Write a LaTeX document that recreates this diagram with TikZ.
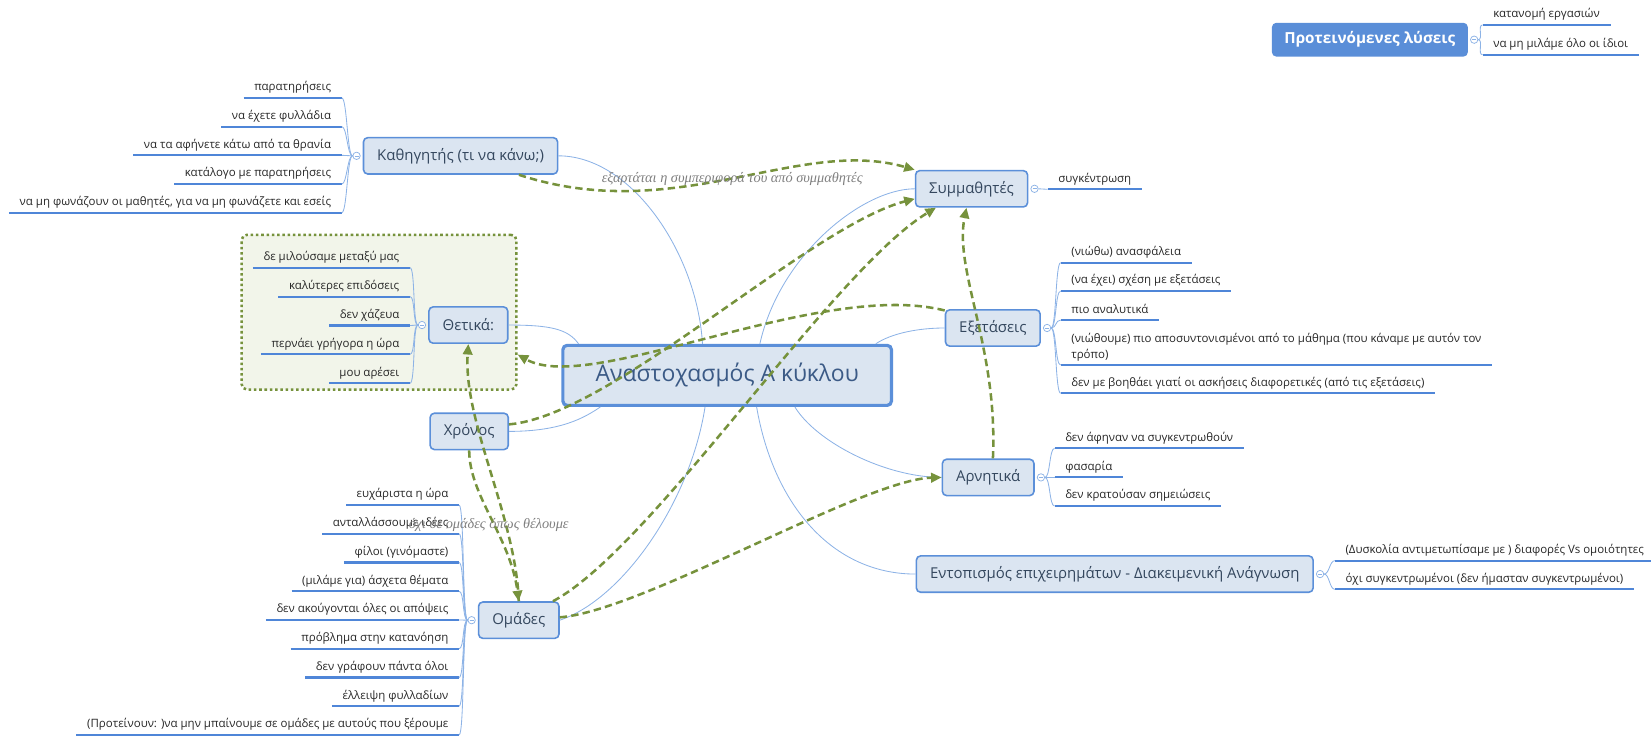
\documentclass[tikz,border=0pt]{standalone}
\usepackage{fontspec}
\setmainfont{Open Sans}
\newfontfamily\notefont{Liberation Serif}
\usetikzlibrary{positioning,arrows.meta}

\definecolor{topicfill}{HTML}{DBE5F1}
\definecolor{topicline}{HTML}{5B8FD9}
\definecolor{topictext}{HTML}{34475E}
\definecolor{roottext}{HTML}{3B5A86}
\definecolor{floatblue}{HTML}{5A8ED8}
\definecolor{twig}{HTML}{8DB3E6}
\definecolor{leafbar}{HTML}{4F86D8}
\definecolor{relgreen}{HTML}{76923C}
\definecolor{groupfill}{HTML}{F2F5EA}
\definecolor{notegray}{HTML}{7F7F7F}

\begin{document}
\begin{tikzpicture}[x=1pt, y=-1pt,
  topic/.style={rectangle, rounded corners=4pt, draw=topicline, line width=1.5pt, fill=topicfill, text=topictext,
    font=\fontsize{14.2}{17}\selectfont, minimum height=34.5pt, inner xsep=13pt},
  root/.style={topic, line width=3pt, minimum width=312pt, minimum height=57pt, text=roottext, font=\fontsize{21.8}{26}\selectfont},
  floater/.style={rectangle, rounded corners=4pt, fill=floatblue, text=white, font=\bfseries\fontsize{14.5}{17}\selectfont,
    minimum height=32pt, minimum width=186pt},
  group/.style={rectangle, rounded corners=5pt, draw=relgreen, fill=groupfill, line width=2.4pt, dash pattern=on 2.4pt off 2.6pt},
  knob/.style={circle, draw=twig, fill=white, line width=.7pt, minimum size=7pt, inner sep=0pt,
    path picture={\draw[twig, line width=.6pt] ([xshift=1.6pt]path picture bounding box.west) -- ([xshift=-1.6pt]path picture bounding box.east);}},
  leaf/.style={font=\fontsize{10.9}{15}\selectfont, text=black!85, align=left, inner xsep=10pt, inner ysep=0pt, text depth=6.5pt},
  leafl/.style={leaf, anchor=south east},
  leafr/.style={leaf, anchor=south west},
  bar/.style={leafbar, line width=2pt},
  twigline/.style={twig, line width=.8pt},
  rel/.style={relgreen, line width=2.4pt, dash pattern=on 7pt off 4pt, -{Triangle[length=10pt,width=9pt]}},
  note/.style={font=\notefont\itshape\fontsize{13.6}{16}\selectfont, text=notegray, inner sep=0pt}]
\useasboundingbox (0,0) rectangle (1568,699);

\node[group, minimum width=261pt, minimum height=147pt] (posgrp) at (360,296.5) {};

\node[root] (root) at (690.6,356.5) {Αναστοχασμός Α κύκλου};
\node[topic] (teacher) at (437.4,148) {Καθηγητής (τι να κάνω;)};
\node[topic] (mates) at (922.7,179.3) {Συμμαθητές};
\node[topic] (exams) at (942.9,311.5) {Εξετάσεις};
\node[topic] (neg) at (938.5,453.4) {Αρνητικά};
\node[topic] (argum) at (1058.7,545.2) {Εντοπισμός επιχειρημάτων - Διακειμενική Ανάγνωση};
\node[topic] (pos) at (444.8,308.7) {Θετικά:};
\node[topic] (time) at (445.6,409.7) {Χρόνος};
\node[topic] (groups) at (492.7,589) {Ομάδες};
\node[floater] (ideas) at (1301,37.7) {Προτεινόμενες λύσεις};

\draw[twigline] (root.128) .. controls +(-5,-85) and +(70,0) .. (teacher.east);
\draw[twigline] (root.44) .. controls +(19,-85) and +(-49,0) .. (mates.west);
\draw[twigline] (root.12) .. controls +(15,-10) and +(-25,0) .. (exams.west);
\draw[twigline] (root.168) .. controls +(-10,-14) and +(40,0) .. (pos.east);
\draw[twigline] (root.194) .. controls +(-15,10) and +(50,0) .. (time.east);
\draw[twigline] (root.235) .. controls +(-14,90) and +(60,-20) .. (groups.east);
\draw[twigline] (root.-25) .. controls +(20,33) and +(-54,0) .. (neg.west);
\draw[twigline] (root.-47) .. controls +(16,93) and +(-79,0) .. (argum.west);

\node[knob, left=2pt of teacher] (teacher-k) {};
\node[knob, left=2pt of pos] (pos-k) {};
\node[knob, left=2pt of groups] (groups-k) {};
\node[knob, right=2pt of mates] (mates-k) {};
\node[knob, right=2pt of exams] (exams-k) {};
\node[knob, right=2pt of neg] (neg-k) {};
\node[knob, right=2pt of argum] (argum-k) {};
\node[knob, right=2pt of ideas] (ideas-k) {};

% left hand leaves
\foreach \t [count=\i from 0] in {παρατηρήσεις, να έχετε φυλλάδια, να τα αφήνετε κάτω από τα θρανία,
    κατάλογο με παρατηρήσεις, {να μη φωνάζουν οι μαθητές, για να μη φωνάζετε και εσείς}} {
  \node[leafl] (teacher-\i) at (324.6,{93+27.25*\i}) {\t};
  \draw[bar] (teacher-\i.south west) -- (teacher-\i.south east);
  \draw[twigline] (teacher-k.west) .. controls +(-5,0) and +(5,0) .. (teacher-\i.south east);
}
\foreach \t [count=\i from 0] in {δε μιλούσαμε μεταξύ μας, καλύτερες επιδόσεις, δεν χάζευα,
    περνάει γρήγορα η ώρα, μου αρέσει} {
  \node[leafl] (pos-\i) at (389.4,{254.2+27.45*\i}) {\t};
  \draw[bar] (pos-\i.south west) -- (pos-\i.south east);
  \draw[twigline] (pos-k.west) .. controls +(-5,0) and +(5,0) .. (pos-\i.south east);
}
\foreach \t [count=\i from 0] in {ευχάριστα η ώρα, ανταλλάσσουμε ιδέες, φίλοι (γινόμαστε), (μιλάμε για) άσχετα θέματα,
    δεν ακούγονται όλες οι απόψεις, πρόβλημα στην κατανόηση, δεν γράφουν πάντα όλοι, έλλειψη φυλλαδίων,
    (Προτείνουν: )να μην μπαίνουμε σε ομάδες με αυτούς που ξέρουμε} {
  \node[leafl] (groups-\i) at (436,{479.6+27.3*\i}) {\t};
  \draw[bar] (groups-\i.south west) -- (groups-\i.south east);
  \draw[twigline] (groups-k.west) .. controls +(-5,0) and +(5,0) .. (groups-\i.south east);
}

% right hand leaves
\foreach \k/\x/\y/\t [count=\i] in {mates/995/179.8/συγκέντρωση,
    exams/1007.3/249.5/(νιώθω) ανασφάλεια,
    exams/1007.3/276.4/(να έχει) σχέση με εξετάσεις,
    exams/1007.3/304/πιο αναλυτικά,
    exams/1007.3/346.7/{(νιώθουμε) πιο αποσυντονισμένοι από το μάθημα (που κάναμε με αυτόν τον\\τρόπο)},
    exams/1007.3/373.5/δεν με βοηθάει γιατί οι ασκήσεις διαφορετικές (από τις εξετάσεις),
    neg/1001.5/425.8/δεν άφηναν να συγκεντρωθούν,
    neg/1001.5/453.4/φασαρία,
    neg/1001.5/480.6/δεν κρατούσαν σημειώσεις,
    argum/1267.7/532.5/(Δυσκολία αντιμετωπίσαμε με ) διαφορές Vs ομοιότητες,
    argum/1267.7/559.7/όχι συγκεντρωμένοι (δεν ήμασταν συγκεντρωμένοι),
    ideas/1408/23.7/κατανομή εργασιών,
    ideas/1408/52/να μη μιλάμε όλο οι ίδιοι} {
  \node[leafr] (leaf-\i) at (\x,\y) {\t};
  \draw[bar] (leaf-\i.south west) -- (leaf-\i.south east);
  \draw[twigline] (\k-k.east) .. controls +(5,0) and +(-5,0) .. (leaf-\i.south west);
}

% relationships
\draw[rel] (teacher.-18) .. controls +(149,49) and +(-110,-32) .. (mates.north west)
  node[note, pos=.5] {εξαρτάται η συμπεριφορά του από συμμαθητές};
\draw[rel] (time.10) .. controls +(97,-8) and +(-100,26) .. (mates.190);
\draw[rel] (groups.29) .. controls +(95,-51) and +(-99,60) .. (mates.208);
\draw[rel] (exams.160) .. controls +(-118,-30) and +(69,39) .. (posgrp.-17);
\draw[rel] (groups.north) .. controls +(-3,-81) and +(-5,74) .. (pos.south);
\draw[rel] (time.south) .. controls +(0,43) and +(-8,-61) .. (groups.north)
  node[note, pos=.5, xshift=-2pt, yshift=-6pt] {όχι σε ομάδες όπως θέλουμε};
\draw[rel] (groups.4) .. controls +(79,-6) and +(-74,2) .. (neg.west);
\draw[rel] (neg.76) .. controls +(5,-105) and +(-12,60) .. (mates.255);
\end{tikzpicture}
\end{document}
